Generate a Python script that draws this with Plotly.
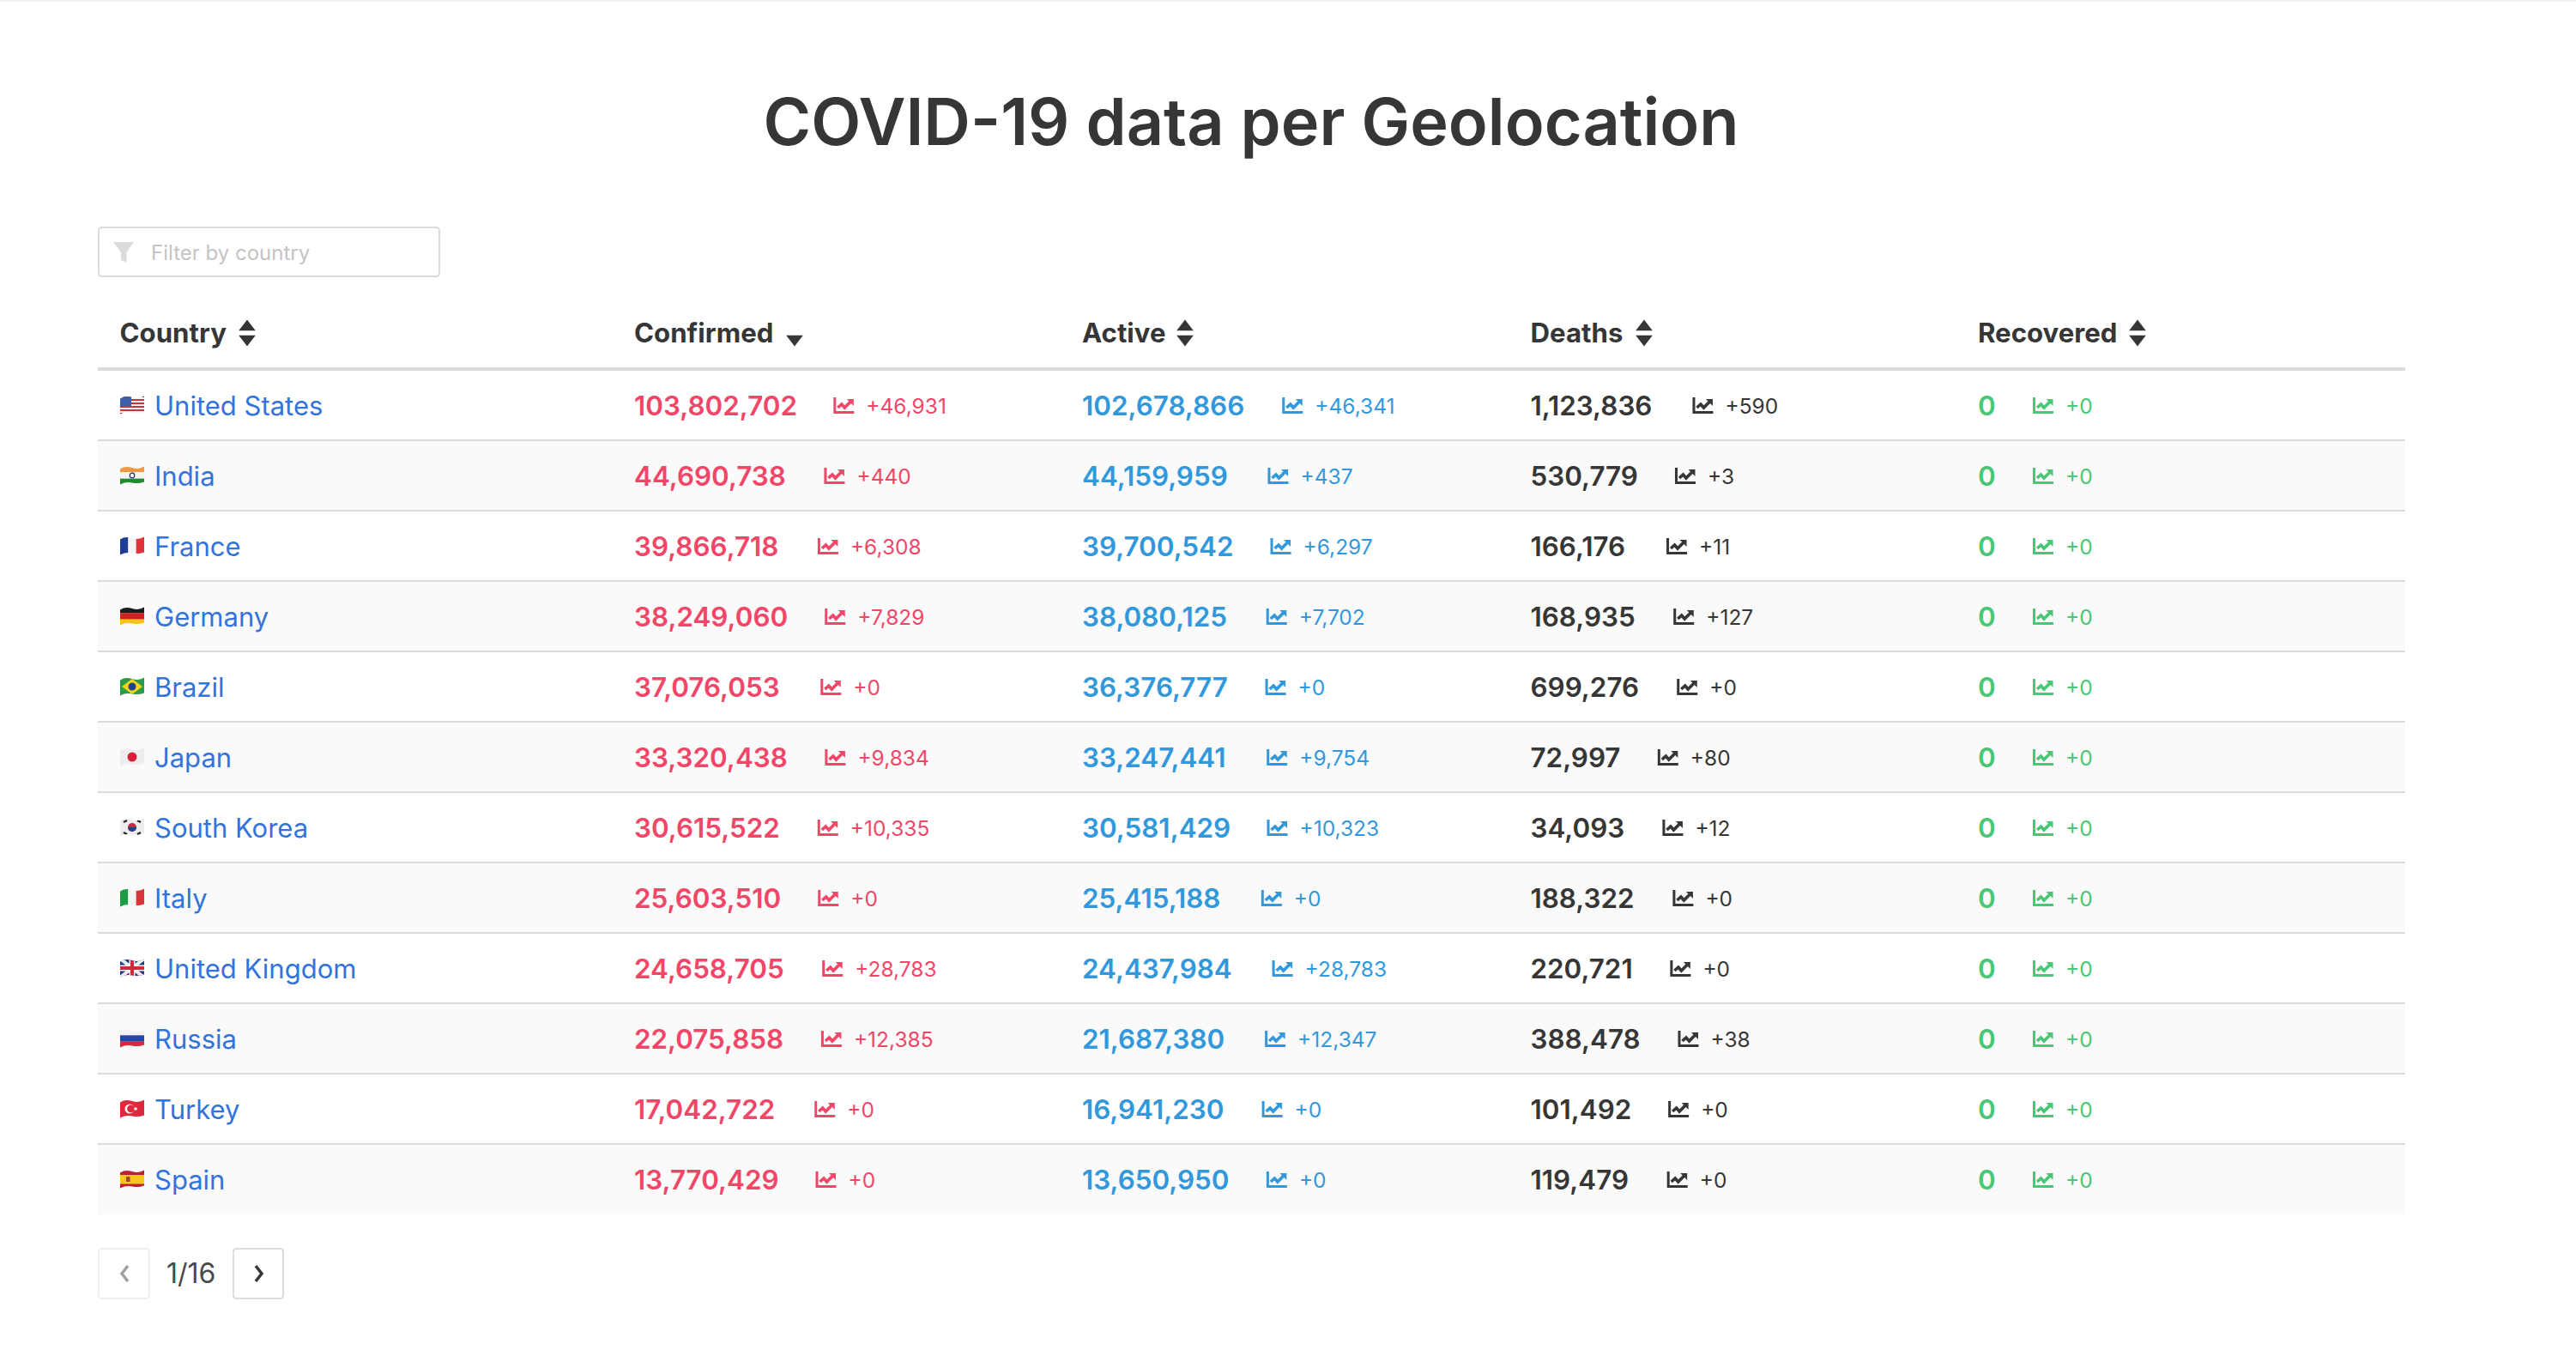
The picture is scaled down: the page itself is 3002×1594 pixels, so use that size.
"""COVID-19 data per Geolocation: table page drawn on a pixel-sized Plotly canvas."""

import base64

import plotly.graph_objects as go

COUNTRIES = [
    "United States", "India", "France", "Germany", "Brazil", "Japan",
    "South Korea", "Italy", "United Kingdom", "Russia", "Turkey", "Spain",
]
CONFIRMED = [103802702, 44690738, 39866718, 38249060, 37076053, 33320438,
             30615522, 25603510, 24658705, 22075858, 17042722, 13770429]
CONFIRMED_NEW = [46931, 440, 6308, 7829, 0, 9834, 10335, 0, 28783, 12385, 0, 0]
ACTIVE = [102678866, 44159959, 39700542, 38080125, 36376777, 33247441,
          30581429, 25415188, 24437984, 21687380, 16941230, 13650950]
ACTIVE_NEW = [46341, 437, 6297, 7702, 0, 9754, 10323, 0, 28783, 12347, 0, 0]
DEATHS = [1123836, 530779, 166176, 168935, 699276, 72997,
          34093, 188322, 220721, 388478, 101492, 119479]
DEATHS_NEW = [590, 3, 11, 127, 0, 80, 12, 0, 0, 38, 0, 0]
RECOVERED = [0] * 12
RECOVERED_NEW = [0] * 12
HEADERS = ["Country", "Confirmed", "Active", "Deaths", "Recovered"]

W, H = 3002, 1594
FONT = "Inter"
DARK = "#363636"
LINE = "#dbdbdb"
LEFT, RIGHT = 114, 2803
HEAD_LINE = 430
ROW_H = 82
FIRST_ROW = 473
TEXT_DY = 3  # plotly sets text a little above the centre of its box
COL_X = [139.5, 739, 1261, 1783.5, 2305]
NUM_SIZE = 31.4
NEW_SIZE = 24.5

# rough advance widths of the numbers in em at 32 px, used to place the icon after a number
CHAR_W = {"0": .625, "1": .43, "2": .61, "3": .63, "4": .65, "5": .615,
          "6": .63, "7": .56, "8": .63, "9": .63, ",": .27}


def text_width(s):
    return sum(CHAR_W[c] for c in s) * 32


def row_y(i):
    return FIRST_ROW + ROW_H * i


def text_trace(x, y, text, color, size, weight=400):
    return go.Scatter(
        x=x, y=[v + TEXT_DY for v in y], text=text, mode="text", textposition="middle right",
        textfont=dict(family=FONT, size=size, color=color, weight=weight),
        hoverinfo="skip", showlegend=False,
    )


def round_box(x0, x1, y0, y1, color, r=4):
    path = (f"M{x0 + r},{y0} L{x1 - r},{y0} Q{x1},{y0} {x1},{y0 + r} L{x1},{y1 - r} Q{x1},{y1} {x1 - r},{y1} "
            f"L{x0 + r},{y1} Q{x0},{y1} {x0},{y1 - r} L{x0},{y0 + r} Q{x0},{y0} {x0 + r},{y0} Z")
    return dict(type="path", path=path, fillcolor="white", line=dict(color=color, width=2), layer="below")


def icon_shapes(x, y, color):
    """Small line-chart icon, left edge at x, vertically centred on y."""
    top, bot = y - 10, y + 9
    axis = f"M{x + 1.5},{top} L{x + 1.5},{bot - 1.5} L{x + 24},{bot - 1.5}"
    zig = f"M{x + 5},{y + 2} L{x + 9.5},{y - 2} L{x + 13},{y + 2} L{x + 20},{y - 5}"
    head = f"M{x + 15.5},{y - 8} L{x + 23.5},{y - 8} L{x + 23.5},{y} Z"
    return [
        dict(type="path", path=axis, line=dict(color=color, width=3)),
        dict(type="path", path=zig, line=dict(color=color, width=3.6)),
        dict(type="path", path=head, fillcolor=color, line=dict(width=0)),
    ]


def flag_uri(body):
    svg = (
        '<svg xmlns="http://www.w3.org/2000/svg" width="112" height="88" viewBox="0 0 28 22">'
        '<defs><clipPath id="w"><path d="M0 3.5Q6 -.5 14 2T28 .5V18.5Q21 21 14 19.5T0 21.5Z"/></clipPath></defs>'
        f'<g clip-path="url(#w)">{body}</g></svg>'
    )
    return "data:image/svg+xml;base64," + base64.b64encode(svg.encode()).decode()


def bands(colors, vertical=False):
    n = len(colors)
    out = ""
    for k, c in enumerate(colors):
        if vertical:
            out += f'<rect x="{28 * k / n}" y="0" width="{28 / n + .1}" height="22" fill="{c}"/>'
        else:
            out += f'<rect x="0" y="{22 * k / n}" width="28" height="{22 / n + .1}" fill="{c}"/>'
    return out


US_STRIPES = "".join(
    f'<rect x="0" y="{k * 2}" width="28" height="2.1" fill="{"#c8323c" if k % 2 == 0 else "#f4f4f4"}"/>'
    for k in range(11)
)
FLAGS = [
    US_STRIPES + '<rect width="13" height="12" fill="#3f5ea8"/>',
    bands(["#ee9a45", "#f4f4f4", "#1f8a2e"]) + '<circle cx="14" cy="11" r="2.8" fill="none" stroke="#23306e" stroke-width="1.2"/>',
    bands(["#1f3d94", "#f4f4f4", "#e0323c"], True),
    bands(["#1a1a1a", "#d0201f", "#f5c518"]),
    '<rect width="28" height="22" fill="#2d9a45"/><path d="M14 2L26 11L14 20L2 11Z" fill="#f4d31f"/><circle cx="14" cy="11" r="4.5" fill="#23408f"/>',
    '<rect width="28" height="22" fill="#ededed"/><circle cx="14" cy="11" r="5.5" fill="#d8203a"/>',
    '<rect width="28" height="22" fill="#ededed"/><circle cx="14" cy="11" r="5" fill="#c8283c"/><path d="M9 11A5 5 0 0 0 19 11Z" fill="#23408f"/>'
    '<path d="M4 5L8 3M20 3L24 5M4 17L8 19M20 19L24 17" stroke="#222" stroke-width="2.4"/>',
    bands(["#1f9a46", "#f4f4f4", "#d8343c"], True),
    '<rect width="28" height="22" fill="#27377f"/><path d="M0 0L28 22M28 0L0 22" stroke="#f4f4f4" stroke-width="4"/>'
    '<path d="M14 0V22M0 11H28" stroke="#f4f4f4" stroke-width="7"/><path d="M14 0V22M0 11H28" stroke="#d0283c" stroke-width="4"/>',
    bands(["#f2f2f2", "#2347a8", "#d8283c"]),
    '<rect width="28" height="22" fill="#dc2a3c"/><circle cx="11" cy="11" r="5.5" fill="#f4f4f4"/><circle cx="12.5" cy="11" r="4.4" fill="#dc2a3c"/><circle cx="18" cy="11" r="1.8" fill="#f4f4f4"/>',
    '<rect width="28" height="22" fill="#bf2030"/><rect y="6" width="28" height="10.5" fill="#f5c71f"/><rect x="7" y="8" width="4.5" height="6" fill="#a8442c"/>',
]

shapes = []
images = []
traces = []

# faint strip along the top of the page
shapes.append(dict(type="rect", x0=0, x1=W, y0=0, y1=2, fillcolor="#f0f0f0",
                   line=dict(width=0), layer="below"))

# striped rows and row separators
for i in range(len(COUNTRIES)):
    top = HEAD_LINE + 1 + ROW_H * i
    if i % 2 == 1:
        shapes.append(dict(type="rect", x0=LEFT, x1=RIGHT, y0=top, y1=top + ROW_H,
                           fillcolor="#fafafa", line=dict(width=0), layer="below"))
    if i > 0:
        shapes.append(dict(type="line", x0=LEFT, x1=RIGHT, y0=top, y1=top,
                           line=dict(color=LINE, width=2), layer="below"))
shapes.append(dict(type="line", x0=LEFT, x1=RIGHT, y0=HEAD_LINE, y1=HEAD_LINE,
                   line=dict(color=LINE, width=4), layer="below"))

ys = [row_y(i) for i in range(len(COUNTRIES))]

# country column
traces.append(text_trace([180] * len(COUNTRIES), ys, COUNTRIES, "#3273dc", 31))
for i, body in enumerate(FLAGS):
    images.append(dict(source=flag_uri(body), xref="x", yref="y", x=140, y=ys[i] - 1,
                       sizex=28, sizey=22, xanchor="left", yanchor="middle",
                       sizing="stretch", layer="above"))

# numeric columns
columns = [
    (CONFIRMED, CONFIRMED_NEW, "#f14668", COL_X[1]),
    (ACTIVE, ACTIVE_NEW, "#3298dc", COL_X[2]),
    (DEATHS, DEATHS_NEW, DARK, COL_X[3]),
    (RECOVERED, RECOVERED_NEW, "#48c774", COL_X[4]),
]
for values, new, color, cx in columns:
    labels = [f"{v:,}" for v in values]
    traces.append(text_trace([cx] * len(labels), ys, labels, color, NUM_SIZE, 600))
    icon_x = [cx + text_width(s) + 44 for s in labels]
    traces.append(text_trace([x + 38 for x in icon_x], ys, [f"+{n:,}" for n in new], color, NEW_SIZE))
    for x, y in zip(icon_x, ys):
        shapes.extend(icon_shapes(x, y, color))

# header row with the sort carets
header_y = 388
traces.append(text_trace(COL_X, [header_y] * 5, HEADERS, DARK, 31.2, 700))
up_x = [288, 1381, 1916, 2491]
down_x = [288, 926, 1381, 1916, 2491]
traces.append(go.Scatter(x=up_x, y=[381] * 4, mode="markers", hoverinfo="skip", showlegend=False,
                         marker=dict(symbol="triangle-up", size=17, color=DARK)))
traces.append(go.Scatter(x=down_x, y=[395] * 5, mode="markers", hoverinfo="skip", showlegend=False,
                         marker=dict(symbol="triangle-down", size=17, color=DARK)))

# filter box
shapes.append(round_box(115, 512, 265, 322, LINE))
shapes.append(dict(type="path", fillcolor=LINE, line=dict(width=0),
                   path="M132,282 L156,282 L147.5,294 L147.5,306 L141,303 L141,294 Z"))
traces.append(text_trace([176], [294], ["Filter by country"], "#c4c4c4", 24))

# pagination
shapes.append(round_box(115, 174, 1455, 1513, "#eeeeee"))
shapes.append(round_box(272, 330, 1455, 1513, LINE))
shapes.append(dict(type="path", path="M149,1475 L142,1484 L149,1493", line=dict(color="#a0a0a0", width=3.5)))
shapes.append(dict(type="path", path="M298,1475 L305,1484 L298,1493", line=dict(color=DARK, width=3.5)))
traces.append(text_trace([194], [1484], ["1/16"], "#4a4a4a", 32))

fig = go.Figure(traces)
fig.update_layout(
    width=W,
    height=H,
    margin=dict(l=0, r=0, t=0, b=0),
    paper_bgcolor="white",
    plot_bgcolor="white",
    showlegend=False,
    shapes=shapes,
    images=images,
    xaxis=dict(range=[0, W], visible=False, fixedrange=True),
    yaxis=dict(range=[H, 0], visible=False, fixedrange=True),
    title=dict(
        text="COVID-19 data per Geolocation",
        x=0.4857, y=0.9105, xanchor="center", yanchor="middle",
        font=dict(family=FONT, size=75.6, color=DARK, weight=600),
    ),
)

fig.write_html("out.html", config={"displayModeBar": False},
               post_script="document.body.style.margin='0';")
